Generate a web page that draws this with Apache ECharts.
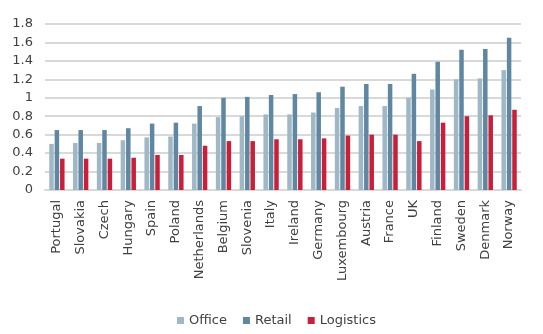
<!DOCTYPE html>
<html>
<head>
<meta charset="utf-8">
<script src="https://cdn.jsdelivr.net/npm/echarts@6/dist/echarts.min.js"></script>
<style>html,body{margin:0;padding:0;background:#fff}#c{width:543px;height:334px}</style>
</head>
<body>
<div id="c"></div>
<script>
const categories = ['Portugal','Slovakia','Czech','Hungary','Spain','Poland','Netherlands','Belgium','Slovenia','Italy','Ireland','Germany','Luxembourg','Austria','France','UK','Finland','Sweden','Denmark','Norway'];
const office    = [0.50,0.51,0.51,0.54,0.57,0.58,0.72,0.79,0.80,0.82,0.82,0.84,0.89,0.91,0.91,1.00,1.09,1.20,1.21,1.30];
const retail    = [0.65,0.65,0.65,0.67,0.72,0.73,0.91,1.00,1.01,1.03,1.04,1.06,1.12,1.15,1.15,1.26,1.39,1.52,1.53,1.65];
const logistics = [0.34,0.34,0.34,0.35,0.38,0.38,0.48,0.53,0.53,0.55,0.55,0.56,0.59,0.60,0.60,0.53,0.73,0.80,0.81,0.87];
const seriesNames = ['Office','Retail','Logistics'];
const colors = ['#a0b7c6','#5f87a2','#c8203a'];

const font = 'DejaVu Sans';
const chart = echarts.init(document.getElementById('c'), null, {renderer:'canvas'});
const mk = (name, data, color) => ({
  name, type:'bar', data, barWidth:4.5, barGap:'20%',
  itemStyle:{color}, animation:false
});
chart.setOption({
  animation:false,
  textStyle:{fontFamily:font},
  color: colors,
  grid:{left:45, right:22, top:24, bottom:144},
  legend:{
    data: seriesNames, left:172, top:309, itemWidth:7, itemHeight:7, itemGap:16,
    icon:'rect', textStyle:{fontFamily:font, fontSize:13, color:'#404040'}
  },
  xAxis:{
    type:'category', data:categories,
    axisLine:{lineStyle:{color:'#d9d9d9', width:2}},
    axisTick:{show:false},
    axisLabel:{rotate:90, interval:0, margin:10, fontFamily:font, fontSize:13, color:'#404040'}
  },
  yAxis:{
    type:'value', min:0, max:1.8, interval:0.2,
    axisLine:{show:false}, axisTick:{show:false},
    splitLine:{lineStyle:{color:'#d9d9d9', width:2}},
    axisLabel:{margin:12, fontFamily:font, fontSize:13, color:'#404040'}
  },
  series:[
    mk(seriesNames[0], office, colors[0]),
    mk(seriesNames[1], retail, colors[1]),
    mk(seriesNames[2], logistics, colors[2])
  ]
});
</script>
</body>
</html>
